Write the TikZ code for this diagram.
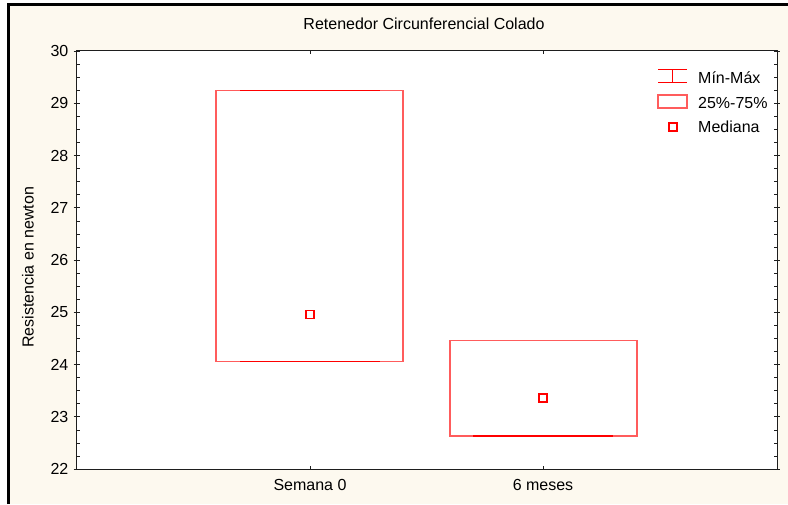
\documentclass[tikz,border=0pt]{standalone}
\usepackage{fontspec}
\setmainfont{Liberation Sans}
\definecolor{panel}{HTML}{FDF9EF}
\definecolor{boxred}{HTML}{FF5C5C}
\definecolor{axisgray}{HTML}{1E1E1E}
\tikzset{
  quartile/.style={draw=boxred, line width=1.2pt},
  whisker/.style={draw=red, line width=1.2pt},
  median/.style={draw=red, line width=1.2pt},
  label/.style={font=\fontsize{16}{18}\selectfont, inner sep=0pt},
}
\begin{document}
\begin{tikzpicture}[x=1pt, y=1pt]
    \useasboundingbox (0,0) rectangle (788,504);
    \fill[panel] (8.7,0) rectangle (788,499.3);
    \draw[line width=2.7pt, black] (8.7,0) -- (8.7,499.3) -- (788,499.3);
    \fill[white] (76.5,35) rectangle (777,453);

    \node[label] (title) at (424,480.5) {Retenedor Circunferencial Colado};
    \node[label, rotate=90] (ylabel) at (28,236.5) {Resistencia en newton};

    % data values on the y axis
    \begin{scope}[yshift=-1114.5pt, y=52.25pt]
        \foreach \v in {22.25,22.5,...,29.75} {
            \draw[axisgray, line width=0.6pt] (76.5,\v) -- (79.5,\v);
            \draw[axisgray, line width=0.6pt] (774,\v) -- (777,\v);
        }
        \foreach \v in {22,...,30} {
            \draw[axisgray, line width=0.7pt] (73.5,\v) -- (79.5,\v);
            \draw[axisgray, line width=0.7pt] (774,\v) -- (780,\v);
            \node[label, anchor=east] (tick\v) at (68.5,\v) {\v};
        }
        \foreach \x in {310,543} {
            \draw[axisgray, line width=0.7pt] (\x,22) -- (\x,22.06);
            \draw[axisgray, line width=0.7pt] (\x,30) -- (\x,29.94);
        }
        \draw[axisgray, line width=1pt] (76.5,22) rectangle (777,30);

        \node[label] (sem0) at (310,21.69) {Semana 0};
        \node[label] (mes6) at (543,21.69) {6 meses};

        % Semana 0
        \draw[quartile] (216,24.05) rectangle (403,29.25);
        \draw[whisker] (240,29.25) -- (380,29.25);
        \draw[whisker] (240,24.05) -- (380,24.05);
        \coordinate (med0) at (310,24.95);
        \draw[median] ([shift={(-4pt,-4pt)}]med0) rectangle ([shift={(4pt,4pt)}]med0);

        % 6 meses
        \draw[quartile] (450,22.63) rectangle (637,24.455);
        \draw[whisker] (473,22.63) -- (613,22.63);
        \coordinate (med6) at (543,23.36);
        \draw[median] ([shift={(-4pt,-4pt)}]med6) rectangle ([shift={(4pt,4pt)}]med6);
    \end{scope}

    % legend
    \draw[whisker] (658,434.7) -- (687,434.7);
    \draw[whisker] (658,421.3) -- (687,421.3);
    \draw[whisker] (672.5,434.7) -- (672.5,421.3);
    \draw[quartile] (658,409) rectangle (687,396);
    \draw[median] (669,373) rectangle (677,381);
    \node[label, anchor=base west] (legminmax) at (698,420.7) {Mín-Máx};
    \node[label, anchor=base west] (legq) at (698,395.7) {25\%-75\%};
    \node[label, anchor=base west] (legmedian) at (698,371.7) {Mediana};
\end{tikzpicture}
\end{document}
